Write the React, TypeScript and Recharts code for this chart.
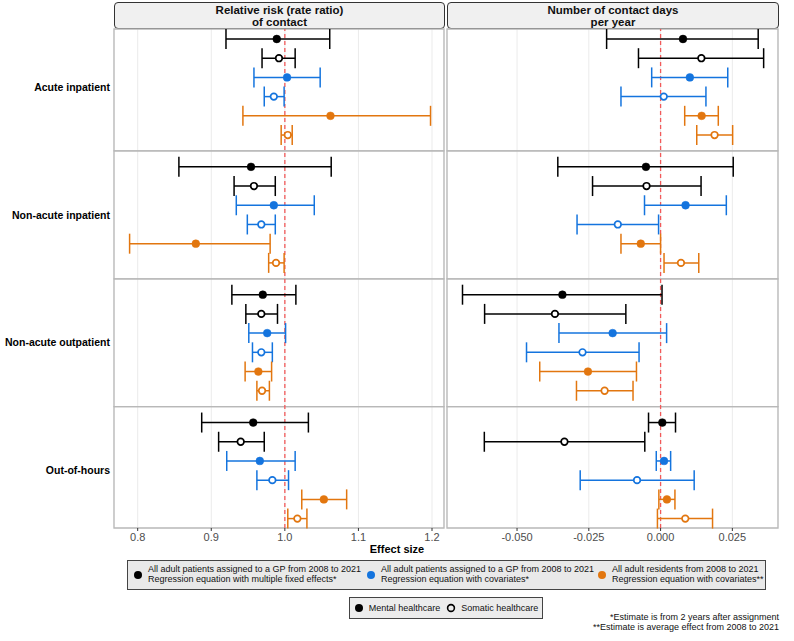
import React from 'react';
import {
  ScatterChart,
  Scatter,
  XAxis,
  YAxis,
  CartesianGrid,
  ErrorBar,
  ReferenceLine,
  ReferenceArea,
} from 'recharts';

// ---------- data ----------
const outcomes = ['Acute inpatient', 'Non-acute inpatient', 'Non-acute outpatient', 'Out-of-hours'];

const facetTitles = [
  ['Relative risk (rate ratio)', 'of contact'],
  ['Number of contact days', 'per year'],
];

const rrTicks = [0.8, 0.9, 1.0, 1.1, 1.2];
const daysTicks = [-0.05, -0.025, 0, 0.025];

// [estimate, lower, upper] per outcome
const rrFixedMental = [[0.989, 0.920, 1.061], [0.954, 0.856, 1.063], [0.970, 0.928, 1.015], [0.957, 0.887, 1.032]];
const rrFixedSomatic = [[0.992, 0.969, 1.014], [0.958, 0.931, 0.987], [0.968, 0.947, 0.990], [0.940, 0.910, 0.972]];
const rrGpMental = [[1.003, 0.958, 1.048], [0.985, 0.934, 1.040], [0.976, 0.951, 1.001], [0.966, 0.921, 1.014]];
const rrGpSomatic = [[0.985, 0.972, 0.999], [0.968, 0.949, 0.987], [0.968, 0.956, 0.983], [0.983, 0.962, 1.005]];
const rrResMental = [[1.062, 0.943, 1.198], [0.879, 0.789, 0.980], [0.964, 0.946, 0.982], [1.053, 1.023, 1.084]];
const rrResSomatic = [[1.004, 0.995, 1.010], [0.988, 0.978, 0.999], [0.969, 0.962, 0.979], [1.017, 1.004, 1.030]];

const daysFixedMental = [[0.0078, -0.0188, 0.0340], [-0.0051, -0.0358, 0.0253], [-0.0342, -0.0690, 0.0005], [0.0006, -0.0042, 0.0052]];
const daysFixedSomatic = [[0.0142, -0.0077, 0.0359], [-0.0049, -0.0237, 0.0141], [-0.0368, -0.0613, -0.0121], [-0.0335, -0.0614, -0.0055]];
const daysGpMental = [[0.0102, -0.0031, 0.0234], [0.0087, -0.0056, 0.0229], [-0.0167, -0.0354, 0.0021], [0.0012, -0.0015, 0.0035]];
const daysGpSomatic = [[0.0011, -0.0138, 0.0158], [-0.0149, -0.0291, -0.0007], [-0.0272, -0.0467, -0.0075], [-0.0082, -0.0280, 0.0117]];
const daysResMental = [[0.0143, 0.0084, 0.0201], [-0.0069, -0.0138, 0.0000], [-0.0253, -0.0421, -0.0084], [0.0022, -0.0006, 0.0050]];
const daysResSomatic = [[0.0188, 0.0126, 0.0251], [0.0071, 0.0012, 0.0133], [-0.0195, -0.0293, -0.0096], [0.0086, -0.0011, 0.0181]];

const sampleLabels = [
  ['All adult patients assigned to a GP from 2008 to 2021', 'Regression equation with multiple fixed effects*'],
  ['All adult patients assigned to a GP from 2008 to 2021', 'Regression equation with covariates*'],
  ['All adult residents from 2008 to 2021', 'Regression equation with covariates**'],
];
const careTypes = ['Mental healthcare', 'Somatic healthcare'];
const footnotes = ['*Estimate is from 2 years after assignment', '**Estimate is average effect from 2008 to 2021'];

// ---------- styles ----------
const FONT = '"Liberation Sans", Arial, Helvetica, sans-serif';
const BLACK = '#000000';
const BLUE = '#1474DE';
const ORANGE = '#E2760F';
const sampleColors = [BLACK, BLUE, ORANGE];

const rrSeries = [rrFixedMental, rrFixedSomatic, rrGpMental, rrGpSomatic, rrResMental, rrResSomatic];
const daysSeries = [daysFixedMental, daysFixedSomatic, daysGpMental, daysGpSomatic, daysResMental, daysResSomatic];

const ROW_STEP = 6.656;
const Y_MIN = -0.52;
const Y_MAX = 3 * ROW_STEP + 5 + 0.49;
const HALF_GAP = (ROW_STEP - 5) / 2;

const rowBounds = outcomes.map((_, i) => [
  i === 0 ? Y_MIN : i * ROW_STEP - HALF_GAP,
  i === outcomes.length - 1 ? Y_MAX : i * ROW_STEP + 5 + HALF_GAP,
]);
const rowCenters = outcomes.map((_, i) => i * ROW_STEP + 2.5);

const buildData = (series: number[][]) =>
  series.map((v, i) => ({
    x: v[0],
    y: 0,
    row: i,
    err: [v[0] - v[1], v[2] - v[0]],
  }));

const makeShape = (color: string, filled: boolean) => (props: any) => {
  const { cx, cy } = props;
  if (cx == null || cy == null) return <g />;
  return filled ? (
    <circle cx={cx} cy={cy} r={3.9} fill={color} stroke={color} strokeWidth={0.5} />
  ) : (
    <circle cx={cx} cy={cy} r={3.3} fill="#ffffff" stroke={color} strokeWidth={1.7} />
  );
};

const RowLabelTick = (props: any) => {
  const { x, y, payload } = props;
  const idx = rowCenters.findIndex((c) => Math.abs(c - payload.value) < 0.01);
  if (idx < 0) return <g />;
  return (
    <text
      x={x}
      y={y}
      dy="0.355em"
      textAnchor="end"
      fill="#000000"
      fontSize={10.5}
      fontWeight="bold"
      fontFamily={FONT}
    >
      {outcomes[idx]}
    </text>
  );
};

function Panel({
  left,
  width,
  domain,
  ticks,
  fmt,
  refX,
  series,
  showLabels,
}: {
  left: number;
  width: number;
  domain: [number, number];
  ticks: number[];
  fmt: (v: number) => string;
  refX: number;
  series: number[][][];
  showLabels: boolean;
}) {
  return (
    <div style={{ position: 'absolute', left, top: 28 }}>
      <ScatterChart
        width={width}
        height={523}
        margin={{ top: 1, right: 1, bottom: 0, left: showLabels ? 0 : 1 }}
      >
        <CartesianGrid horizontal={false} stroke="#ebebeb" strokeWidth={1} />
        <XAxis
          type="number"
          dataKey="x"
          domain={domain}
          ticks={ticks}
          allowDataOverflow
          interval={0}
          tickFormatter={fmt}
          axisLine={false}
          tickLine={{ stroke: '#333333' }}
          tickSize={3}
          tickMargin={2}
          height={23}
          tick={{ fill: '#4d4d4d', fontSize: 11, fontFamily: FONT }}
        />
        <YAxis
          type="number"
          dataKey="y"
          domain={[Y_MIN, Y_MAX]}
          reversed
          allowDataOverflow
          hide={!showLabels}
          width={114}
          ticks={rowCenters}
          interval={0}
          axisLine={false}
          tickLine={false}
          tickSize={0}
          tickMargin={4}
          tick={<RowLabelTick />}
        />
        {rowBounds.map((b, i) => (
          <ReferenceArea
            key={'ra' + i}
            y1={b[0]}
            y2={b[1]}
            fill="none"
            stroke="#b8b8b8"
            strokeWidth={1.3}
            ifOverflow="visible"
          />
        ))}
        <ReferenceLine x={refX} stroke="#f25a5a" strokeDasharray="4 3" strokeWidth={1.3} />
        {series.map((s, k) => {
          const color = sampleColors[Math.floor(k / 2)];
          const filled = k % 2 === 0;
          const data = buildData(s).map((d) => ({ ...d, y: d.row * ROW_STEP + k }));
          return (
            <Scatter
              key={'s' + k}
              data={data}
              isAnimationActive={false}
              shape={makeShape(color, filled)}
            >
              <ErrorBar
                dataKey="err"
                direction="x"
                width={10}
                stroke={color}
                strokeWidth={1.5}
                isAnimationActive={false}
              />
            </Scatter>
          );
        })}
      </ScatterChart>
    </div>
  );
}

function Strip({ left, width, lines }: { left: number; width: number; lines: string[] }) {
  return (
    <div
      style={{
        position: 'absolute',
        left,
        top: 2,
        width,
        height: 27,
        boxSizing: 'border-box',
        border: '1px solid #333333',
        borderRadius: 4,
        background: '#f0f0f0',
        display: 'flex',
        flexDirection: 'column',
        justifyContent: 'center',
        alignItems: 'center',
        fontFamily: FONT,
        fontWeight: 'bold',
        fontSize: 11.5,
        lineHeight: '12px',
        color: '#111',
      }}
    >
      {lines.map((l, i) => (
        <div key={i}>{l}</div>
      ))}
    </div>
  );
}

function Dot({ color, filled }: { color: string; filled: boolean }) {
  return (
    <svg width={10} height={10} style={{ display: 'block' }}>
      {filled ? (
        <circle cx={5} cy={5} r={4} fill={color} />
      ) : (
        <circle cx={5} cy={5} r={3.4} fill="none" stroke={color} strokeWidth={1.6} />
      )}
    </svg>
  );
}

export default function App() {
  const legendItemLefts = [133, 366, 597];
  return (
    <div
      style={{
        position: 'absolute',
        left: 0,
        top: 0,
        width: 794,
        height: 641,
        background: '#ffffff',
        fontFamily: FONT,
        overflow: 'hidden',
      }}
    >
      <Strip left={114} width={331} lines={facetTitles[0]} />
      <Strip left={447} width={332} lines={facetTitles[1]} />

      <Panel
        left={0}
        width={445}
        domain={[0.7678, 1.2163]}
        ticks={rrTicks}
        fmt={(v) => v.toFixed(1)}
        refX={1}
        series={rrSeries}
        showLabels
      />
      <Panel
        left={446}
        width={333}
        domain={[-0.0744, 0.0409]}
        ticks={daysTicks}
        fmt={(v) => v.toFixed(3)}
        refX={0}
        series={daysSeries}
        showLabels={false}
      />

      <div
        style={{
          position: 'absolute',
          left: 0,
          width: 794,
          top: 543,
          textAlign: 'center',
          fontWeight: 'bold',
          fontSize: 11,
          color: '#000',
        }}
      >
        Effect size
      </div>

      {/* sample legend */}
      <div
        style={{
          position: 'absolute',
          left: 127,
          top: 560,
          width: 639,
          height: 30,
          boxSizing: 'border-box',
          border: '1px solid #444',
          background: '#e9e9e9',
        }}
      />
      {sampleLabels.map((lab, i) => (
        <div
          key={'lg' + i}
          style={{
            position: 'absolute',
            left: legendItemLefts[i],
            top: 563,
            height: 24,
            display: 'flex',
            alignItems: 'center',
            gap: 5,
          }}
        >
          <Dot color={sampleColors[i]} filled />
          <div style={{ fontSize: 9, lineHeight: '9.6px', color: '#111', whiteSpace: 'nowrap' }}>
            <div>{lab[0]}</div>
            <div>{lab[1]}</div>
          </div>
        </div>
      ))}

      {/* care type legend */}
      <div
        style={{
          position: 'absolute',
          left: 349,
          top: 597,
          width: 194,
          height: 22,
          boxSizing: 'border-box',
          border: '1px solid #444',
          background: '#ececec',
          display: 'flex',
          alignItems: 'center',
          justifyContent: 'center',
          gap: 6,
          fontSize: 9,
          color: '#111',
        }}
      >
        {careTypes.map((c, i) => (
          <div key={c} style={{ display: 'flex', alignItems: 'center', gap: 5 }}>
            <Dot color={BLACK} filled={i === 0} />
            <span>{c}</span>
          </div>
        ))}
      </div>

      <div
        style={{
          position: 'absolute',
          right: 15,
          top: 613,
          textAlign: 'right',
          fontSize: 9,
          lineHeight: '9.5px',
          color: '#111',
        }}
      >
        {footnotes.map((f) => (
          <div key={f}>{f}</div>
        ))}
      </div>
    </div>
  );
}
